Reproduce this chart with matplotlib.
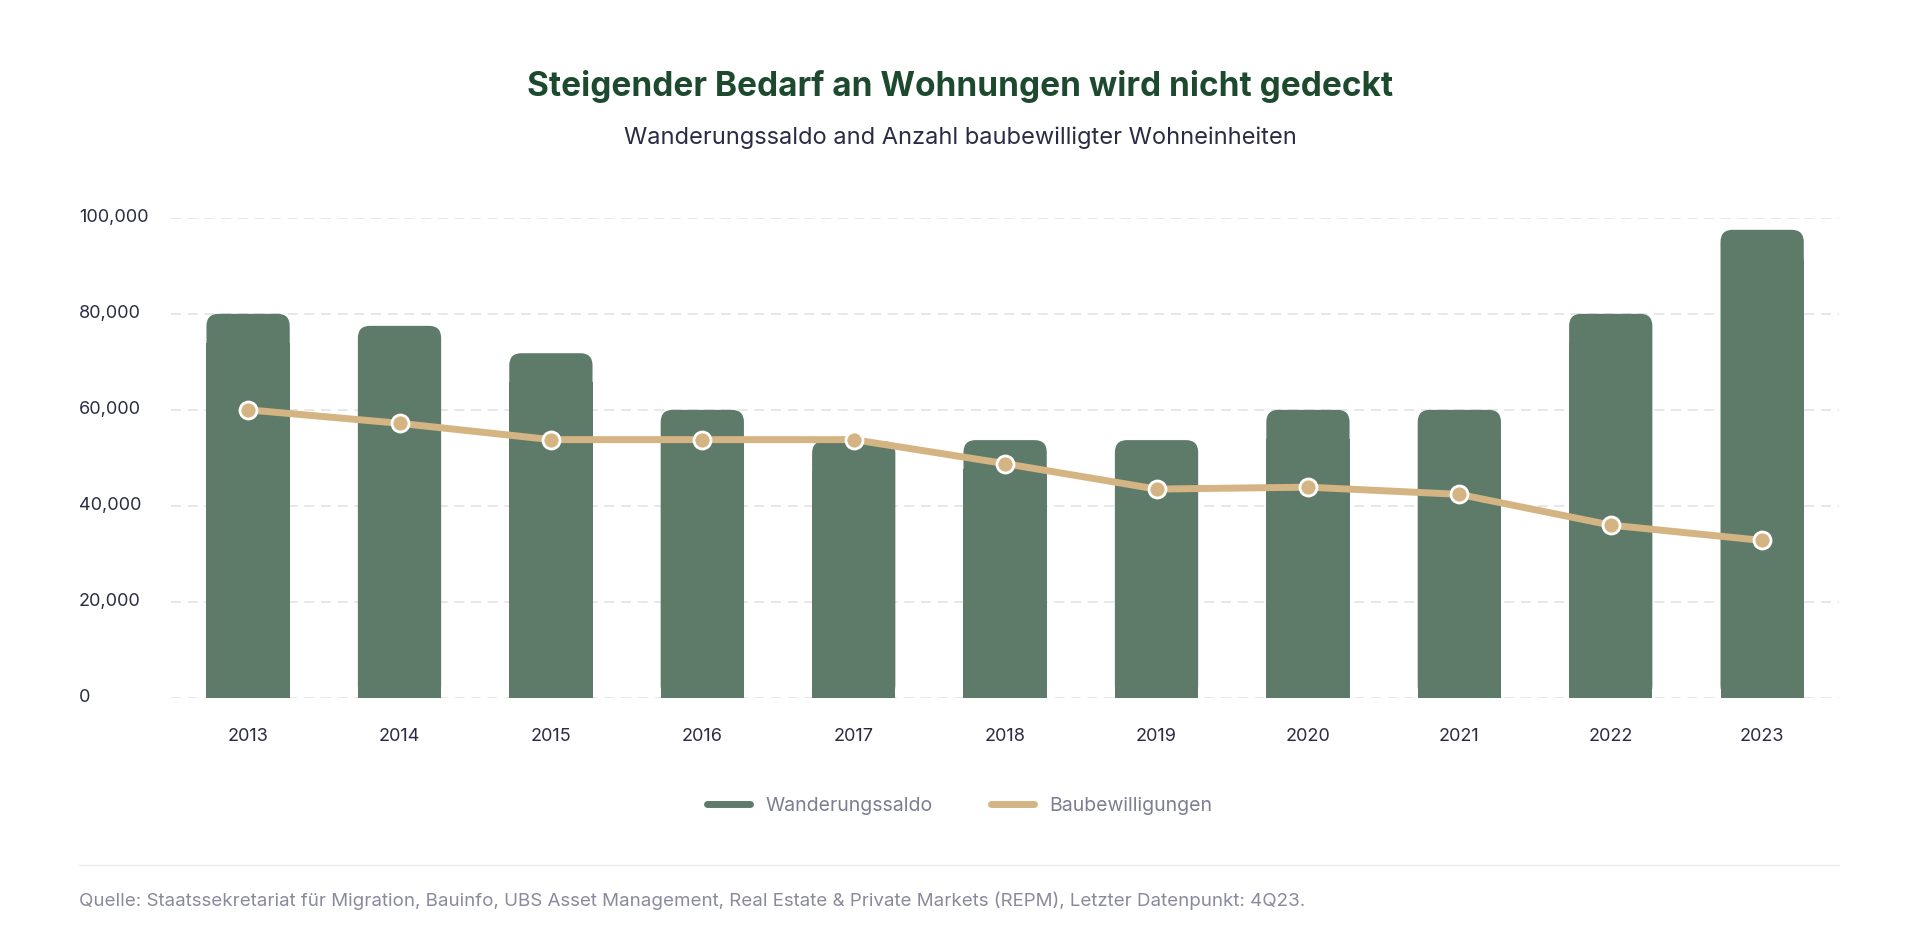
import matplotlib.pyplot as plt
from matplotlib.patches import FancyBboxPatch, Rectangle
from matplotlib.lines import Line2D

years = ['2013', '2014', '2015', '2016', '2017', '2018', '2019', '2020', '2021', '2022', '2023']
wanderungssaldo = [80000, 77500, 71800, 60000, 53500, 53700, 53700, 60000, 60000, 80000, 97500]
baubewilligungen = [60000, 57200, 53800, 53800, 53800, 48800, 43500, 43900, 42400, 36000, 32800]
yticks = [0, 20000, 40000, 60000, 80000, 100000]

bar_col = '#5e7b6a'
line_col = '#d4b483'
text_col = '#2b2b45'

plt.rcParams['font.family'] = ['Inter', 'DejaVu Sans']
fig = plt.figure(figsize=(19.2, 9.47), dpi=100)
ax = fig.add_axes([0.089, 0.263, 0.869, 0.507])

w = 0.55
rad = 0.08
aspect = 31900
for i, v in enumerate(wanderungssaldo):
    ax.add_patch(FancyBboxPatch((i - w / 2, 0), w, v,
                                boxstyle=f"round,pad=0,rounding_size={rad}",
                                mutation_aspect=aspect, fc=bar_col, ec='none', zorder=2))
    ax.add_patch(Rectangle((i - w / 2, 0), w, v - 6000, fc=bar_col, ec='none', zorder=2))

x = list(range(len(years)))
ax.plot(x, baubewilligungen, color=line_col, lw=5, zorder=3, solid_capstyle='round')
ax.scatter(x, baubewilligungen, s=150, color=line_col, edgecolor='white', linewidth=2, zorder=4)

ax.set_xlim(-0.51, 10.51)
ax.set_ylim(0, 100000)
ax.set_yticks(yticks)
ax.set_yticklabels([])
for t in yticks:
    ax.axhline(t, color='#e3e3e3', lw=1.2, ls=(0, (6, 4)), zorder=1)
    ax.text(-0.055, t, f'{t:,}', transform=ax.get_yaxis_transform(), ha='left', va='center',
            fontsize=13, color=text_col)
ax.tick_params(axis='y', length=0)
ax.set_xticks(x)
ax.set_xticklabels(years, fontsize=13, color=text_col)
ax.tick_params(axis='x', length=0, pad=22)
for s in ax.spines.values():
    s.set_visible(False)
ax.grid(False)

fig.text(0.5, 0.909, 'Steigender Bedarf an Wohnungen wird nicht gedeckt', ha='center', va='center',
         fontsize=24, fontweight='bold', color='#1d4a2e')
fig.text(0.5, 0.855, 'Wanderungssaldo and Anzahl baubewilligter Wohneinheiten', ha='center', va='center',
         fontsize=17, color=text_col)

handles = [Line2D([], [], color=bar_col, lw=5, solid_capstyle='round'),
           Line2D([], [], color=line_col, lw=5, solid_capstyle='round')]
fig.legend(handles, ['Wanderungssaldo', 'Baubewilligungen'], loc='center', bbox_to_anchor=(0.5, 0.149),
           ncol=2, frameon=False, fontsize=14, labelcolor='#7d7d93', handlelength=2.2,
           columnspacing=3, handletextpad=0.8)

fig.add_artist(Line2D([0.041, 0.958], [0.087, 0.087], color='#ececec', lw=1))
fig.text(0.041, 0.049, 'Quelle: Staatssekretariat für Migration, Bauinfo, UBS Asset Management, '
         'Real Estate & Private Markets (REPM), Letzter Datenpunkt: 4Q23.',
         ha='left', va='center', fontsize=13.5, color='#8a8a9e')

fig.savefig('out.png', dpi=100, facecolor='white')
